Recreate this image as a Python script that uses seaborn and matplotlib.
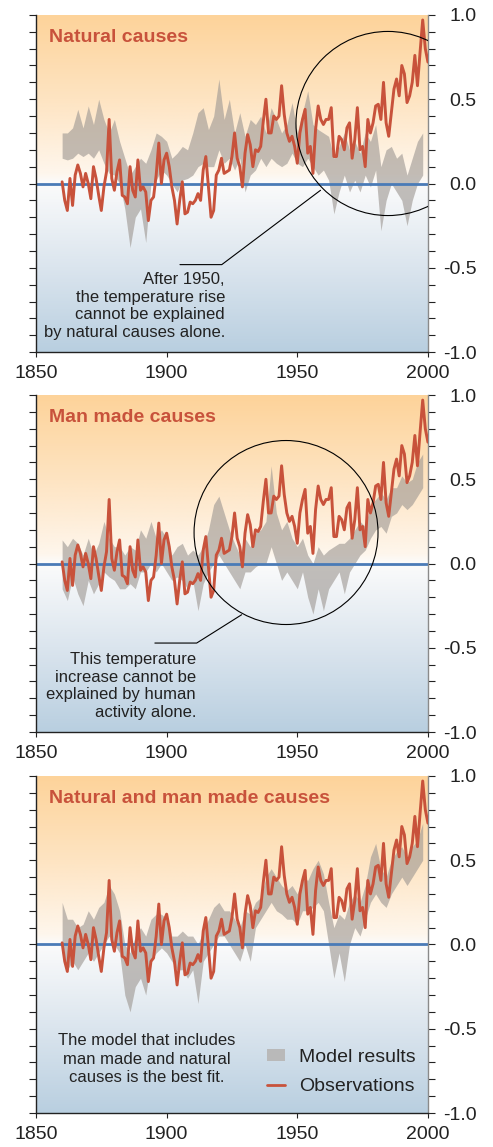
import numpy as np
import pandas as pd
import matplotlib
matplotlib.use("Agg")
import matplotlib.pyplot as plt
import seaborn as sns
from matplotlib.colors import LinearSegmentedColormap
from matplotlib.patches import Ellipse, Patch
from matplotlib.lines import Line2D
from matplotlib.ticker import MultipleLocator, FixedLocator, FixedFormatter

# ---------------- data ----------------
obs_years = list(range(1860, 2001))
obs_values = [
    0.01, -0.10, -0.16, 0.03, -0.13, 0.05, 0.11, 0.06, -0.02, 0.06,
    0.00, -0.09, 0.10, 0.03, -0.07, -0.16, -0.02, 0.07, 0.38, 0.03,
    -0.04, 0.07, 0.14, -0.07, -0.08, -0.12, 0.10, -0.04, -0.08, 0.14,
    -0.04, -0.02, -0.05, -0.22, -0.10, -0.08, 0.05, 0.24, 0.00, 0.14,
    0.18, 0.10, -0.02, -0.10, -0.24, -0.10, 0.01, -0.18, -0.17, -0.11,
    -0.12, -0.10, -0.06, -0.10, 0.08, 0.16, -0.02, -0.20, -0.16, 0.05,
    0.08, 0.15, 0.06, 0.07, 0.08, 0.16, 0.30, 0.15, 0.10, -0.02,
    0.18, 0.29, 0.23, 0.10, 0.20, 0.19, 0.22, 0.37, 0.50, 0.30,
    0.30, 0.40, 0.38, 0.40, 0.58, 0.41, 0.30, 0.25, 0.28, 0.22,
    0.12, 0.30, 0.38, 0.44, 0.18, 0.22, 0.06, 0.32, 0.46, 0.38,
    0.35, 0.38, 0.38, 0.45, 0.16, 0.16, 0.28, 0.26, 0.20, 0.33,
    0.36, 0.15, 0.26, 0.45, 0.20, 0.22, 0.10, 0.38, 0.30, 0.36,
    0.46, 0.47, 0.38, 0.60, 0.36, 0.28, 0.42, 0.56, 0.62, 0.52,
    0.70, 0.65, 0.48, 0.52, 0.60, 0.76, 0.58, 0.78, 0.97, 0.80,
    0.72,
]

model_years = list(range(1860, 1999, 2))

natural_upper = [
    0.30, 0.30, 0.33, 0.44, 0.33, 0.46, 0.35, 0.50, 0.38, 0.30,
    0.38, 0.25, 0.15, 0.05, 0.10, 0.15, 0.12, 0.20, 0.30, 0.28,
    0.25, 0.15, 0.18, 0.22, 0.20, 0.30, 0.42, 0.45, 0.32, 0.40,
    0.62, 0.38, 0.50, 0.30, 0.42, 0.28, 0.38, 0.35, 0.40, 0.30,
    0.45, 0.38, 0.30, 0.35, 0.48, 0.30, 0.42, 0.55, 0.35, 0.32,
    0.30, 0.28, 0.15, 0.22, 0.30, 0.20, 0.25, 0.18, 0.30, 0.25,
    0.35, 0.10, 0.20, 0.22, 0.15, 0.18, 0.05, 0.15, 0.25, 0.30,
]
natural_lower = [
    0.15, 0.14, 0.15, 0.18, 0.16, 0.18, 0.15, 0.20, 0.12, 0.06,
    0.05, 0.00, -0.15, -0.38, -0.20, -0.15, -0.35, 0.00, 0.02, 0.08,
    0.05, 0.00, -0.05, 0.02, 0.03, 0.05, 0.10, 0.12, 0.10, 0.10,
    0.20, 0.12, 0.15, 0.08, 0.15, -0.05, 0.05, 0.08, 0.15, 0.10,
    0.15, 0.12, 0.10, 0.12, 0.18, 0.12, 0.10, 0.15, 0.10, 0.05,
    0.08, 0.02, -0.18, -0.05, 0.05, -0.05, 0.02, -0.05, 0.05, -0.02,
    0.08, -0.28, -0.10, 0.00, -0.05, -0.10, -0.25, -0.10, 0.00, 0.05,
]

manmade_upper = [
    0.14, 0.10, 0.15, 0.12, 0.05, 0.15, 0.05, 0.12, 0.25, 0.15,
    0.10, 0.10, 0.05, 0.10, 0.08, 0.20, 0.15, 0.25, 0.15, 0.20,
    0.15, 0.05, 0.10, 0.12, 0.05, 0.08, 0.05, 0.10, 0.20, 0.35,
    0.40, 0.30, 0.20, 0.12, 0.05, 0.15, 0.10, 0.18, 0.20, 0.25,
    0.58, 0.30, 0.20, 0.25, 0.15, 0.10, 0.15, 0.05, 0.00, 0.10,
    0.05, 0.08, 0.10, 0.12, 0.12, 0.15, 0.20, 0.25, 0.22, 0.35,
    0.38, 0.42, 0.38, 0.45, 0.45, 0.52, 0.48, 0.50, 0.60, 0.65,
]
manmade_lower = [
    -0.15, -0.22, -0.08, -0.18, -0.25, -0.10, -0.18, -0.12, -0.05, -0.08,
    -0.10, -0.15, -0.15, -0.12, -0.15, -0.05, -0.05, 0.00, -0.05, 0.00,
    -0.05, -0.10, -0.08, -0.10, -0.15, -0.10, -0.28, -0.12, -0.05, 0.00,
    0.05, 0.00, -0.05, -0.10, -0.15, -0.05, -0.05, -0.02, 0.00, 0.00,
    0.10, 0.00, -0.10, -0.05, -0.10, -0.15, -0.05, -0.20, -0.30, -0.15,
    -0.28, -0.15, -0.10, -0.05, -0.18, -0.05, 0.00, 0.05, 0.08, 0.15,
    0.20, 0.22, 0.18, 0.28, 0.30, 0.35, 0.32, 0.35, 0.40, 0.45,
]

combined_upper = [
    0.25, 0.15, 0.15, 0.10, 0.12, 0.20, 0.15, 0.22, 0.25, 0.35,
    0.30, 0.20, 0.00, -0.05, 0.05, 0.10, 0.05, 0.15, 0.18, 0.18,
    0.15, 0.05, 0.05, 0.08, 0.05, 0.05, 0.00, 0.08, 0.15, 0.22,
    0.25, 0.20, 0.20, 0.15, 0.10, 0.20, 0.18, 0.25, 0.28, 0.40,
    0.45, 0.40, 0.35, 0.32, 0.35, 0.30, 0.40, 0.38, 0.45, 0.50,
    0.42, 0.25, 0.10, 0.18, 0.15, 0.25, 0.30, 0.25, 0.35, 0.52,
    0.60, 0.45, 0.40, 0.50, 0.55, 0.58, 0.52, 0.58, 0.62, 0.72,
]
combined_lower = [
    -0.05, -0.15, -0.10, -0.15, -0.10, -0.05, -0.10, -0.05, 0.00, 0.05,
    0.00, -0.05, -0.30, -0.40, -0.25, -0.20, -0.30, -0.10, -0.05, -0.02,
    -0.05, -0.10, -0.15, -0.15, -0.20, -0.15, -0.35, -0.10, -0.05, 0.00,
    0.05, 0.05, 0.00, -0.05, -0.10, 0.00, -0.10, 0.10, 0.15, 0.20,
    0.25, 0.20, 0.18, 0.15, 0.15, 0.12, 0.20, 0.20, 0.22, 0.25,
    0.20, 0.00, -0.20, -0.05, -0.22, 0.00, 0.10, 0.05, 0.15, 0.25,
    0.30, 0.25, 0.22, 0.30, 0.35, 0.40, 0.35, 0.40, 0.45, 0.50,
]

panel_titles = ["Natural causes", "Man made causes", "Natural and man made causes"]
y_tick_values = [-1.0, -0.5, 0.0, 0.5, 1.0]
y_tick_labels = ["-1.0", "-0.5", "0.0", "0.5", "1.0"]
x_tick_values = [1850, 1900, 1950, 2000]
x_tick_labels = ["1850", "1900", "1950", "2000"]

notes = [
    "After 1950,\nthe temperature rise\ncannot be explained\nby natural causes alone.",
    "This temperature\nincrease cannot be\nexplained by human\nactivity alone.",
    "The model that includes\nman made and natural\ncauses is the best fit.",
]
legend_labels = ["Model results", "Observations"]

# ---------------- style ----------------
sns.set_style("ticks")
plt.rcParams['font.family'] = ['Liberation Sans', 'DejaVu Sans']
plt.rcParams['axes.unicode_minus'] = False

RED = "#c8523b"
BAND = "#9e9893"
BLUE = "#4a7bb7"

bg_cmap = LinearSegmentedColormap.from_list(
    "bg",
    [(0.0, "#b9cfe0"), (0.25, "#dbe5ee"), (0.5, "#fbfbfb"), (0.53, "#fef6ec"),
     (0.75, "#fee4c2"), (1.0, "#fdd39a")],
)

fig = plt.figure(figsize=(4.93, 11.47), dpi=100)
positions = [
    [0.073, 0.693, 0.795, 0.294],
    [0.073, 0.3618, 0.795, 0.2938],
    [0.073, 0.0296, 0.795, 0.2939],
]
bands = [(natural_lower, natural_upper), (manmade_lower, manmade_upper),
         (combined_lower, combined_upper)]

obs_df = pd.DataFrame({"year": obs_years, "anomaly": obs_values})

for i, pos in enumerate(positions):
    ax = fig.add_axes(pos)
    grad = np.linspace(0, 1, 400).reshape(-1, 1)
    ax.imshow(grad, extent=[1850, 2000, -1, 1], origin="lower", aspect="auto",
              cmap=bg_cmap, zorder=0, interpolation="bilinear")
    lo, hi = bands[i]
    ax.fill_between(model_years, lo, hi, color=BAND, alpha=0.62, lw=0, zorder=1)
    ax.axhline(0, color=BLUE, lw=2.0, zorder=2)
    sns.lineplot(data=obs_df, x="year", y="anomaly", ax=ax, color=RED, lw=2.1, zorder=3)

    ax.set_xlim(1850, 2000)
    ax.set_ylim(-1, 1)
    ax.set_xlabel("")
    ax.set_ylabel("")

    ax.yaxis.set_major_locator(FixedLocator(y_tick_values))
    ax.yaxis.set_major_formatter(FixedFormatter(y_tick_labels))
    ax.yaxis.set_minor_locator(MultipleLocator(0.1))
    ax.tick_params(axis="y", which="both", left=True, right=True, labelleft=False,
                   labelright=True, direction="out", length=5, width=0.8,
                   labelsize=14, pad=30, colors="#222222")
    for lbl in ax.get_yticklabels():
        lbl.set_ha("right")
    ax.xaxis.set_major_locator(FixedLocator(x_tick_values))
    ax.xaxis.set_major_formatter(FixedFormatter(x_tick_labels))
    ax.tick_params(axis="x", which="both", bottom=True, top=False, direction="out",
                   length=3.5, width=0.8, labelsize=14, pad=6, colors="#222222")

    ax.spines["top"].set_visible(False)
    ax.spines["right"].set_color("#8a8a8a")
    ax.spines["left"].set_color("#222222")
    ax.spines["bottom"].set_color("#222222")
    for s in ["left", "right", "bottom"]:
        ax.spines[s].set_linewidth(1.0)

    ax.text(1855, 0.868, panel_titles[i], color=RED, fontsize=14, fontweight="bold",
            ha="left", va="center", zorder=5)

    if i == 0:
        ax.add_patch(Ellipse((1984.7, 0.356), 70.4, 1.092, fill=False, ec="black",
                             lw=0.8, zorder=4, clip_on=True))
        ax.plot([1958.9, 1921.1, 1905.1], [-0.040, -0.481, -0.481], color="black",
                lw=0.8, zorder=4)
        ax.text(1922.3, -0.525, notes[0], ha="right", va="top", fontsize=12,
                linespacing=1.22, color="#222222", zorder=5)
    elif i == 1:
        ax.add_patch(Ellipse((1945.7, 0.184), 70.4, 1.092, fill=False, ec="black",
                             lw=0.8, zorder=4, clip_on=True))
        ax.plot([1928.7, 1911.5, 1895.5], [-0.304, -0.472, -0.472], color="black",
                lw=0.8, zorder=4)
        ax.text(1911.2, -0.525, notes[1], ha="right", va="top", fontsize=12,
                linespacing=1.22, color="#222222", zorder=5, multialignment="right")
    else:
        ax.text(1892.5, -0.525, notes[2], ha="center", va="top", fontsize=12,
                linespacing=1.3, color="#222222", zorder=5, multialignment="center")
        handles = [Patch(facecolor="#b9b9b9", edgecolor="none"),
                   Line2D([0], [0], color=RED, lw=2.0)]
        ax.legend(handles, legend_labels, loc="upper left", bbox_to_anchor=(0.589, 0.19),
                  frameon=False, fontsize=14, handlelength=0.95, handleheight=0.6,
                  handletextpad=0.7, labelspacing=0.62, borderpad=0, borderaxespad=0,
                  labelcolor="#222222")

fig.savefig("out.png", dpi=100)
